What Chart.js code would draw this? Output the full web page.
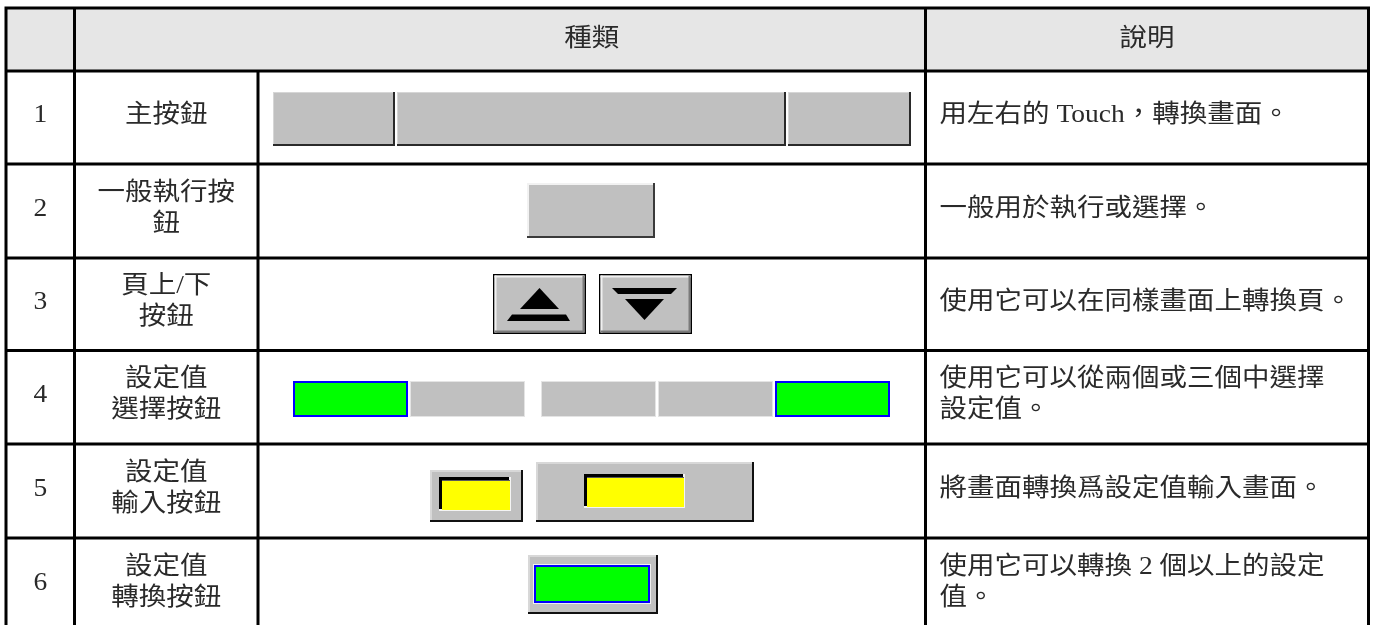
<!DOCTYPE html>
<html>
<head>
<meta charset="utf-8">
<script src="https://cdn.jsdelivr.net/npm/chart.js@4.4.0/dist/chart.umd.min.js"></script>
<style>
  html, body { margin: 0; padding: 0; background: #fff; }
  #wrap { width: 1373px; height: 625px; }
</style>
</head>
<body>
<div id="wrap"><canvas id="myChart" width="1373" height="625"></canvas></div>
<script>
// table content
const headerLabels = ['種類', '說明'];
const rowNumbers = ['1', '2', '3', '4', '5', '6'];
const typeNames = [
  ['主按鈕'],
  ['一般執行按', '鈕'],
  ['頁上/下', '按鈕'],
  ['設定值', '選擇按鈕'],
  ['設定值', '輸入按鈕'],
  ['設定值', '轉換按鈕'],
];
const descriptions = [
  ['用左右的 Touch，轉換畫面。'],
  ['一般用於執行或選擇。'],
  ['使用它可以在同樣畫面上轉換頁。'],
  ['使用它可以從兩個或三個中選擇', '設定值。'],
  ['將畫面轉換爲設定值輸入畫面。'],
  ['使用它可以轉換 2 個以上的設定', '值。'],
];

// layout of the grid (in axis units = page pixels)
const colEdges = [6, 74.5, 258, 925.5, 1368.5];
const rowEdges = [8, 71, 164, 258, 350.5, 444, 538, 632];
const FONT = "25px 'Liberation Serif', 'Noto Sans CJK TC', serif";
const SX = 1.1;      // the reference text is drawn a bit wide
const LINE_H = 31;

const GRAY = '#c0c0c0';

const tablePlugin = {
  id: 'tableDraw',
  afterDraw(chart) {
    const ctx = chart.ctx;
    const xs = chart.scales.x, ys = chart.scales.y;
    const X = (v) => xs.getPixelForValue(v);
    const Y = (v) => ys.getPixelForValue(v);

    function rect(x0, y0, x1, y1, color) {
      ctx.fillStyle = color;
      ctx.fillRect(X(x0), Y(y0), X(x1) - X(x0), Y(y1) - Y(y0));
    }
    // raised gray button: light top/left, dark bottom/right
    function bevel(x0, y0, x1, y1, fill, light, dark, lw, dw) {
      rect(x0, y0, x1, y1, fill);
      if (light) {
        rect(x0, y0, x1, y0 + lw, light);
        rect(x0, y0, x0 + lw, y1, light);
      }
      if (dark) {
        rect(x0, y1 - dw, x1, y1, dark);
        rect(x1 - dw, y0, x1, y1, dark);
      }
    }
    function poly(points, color) {
      ctx.fillStyle = color;
      ctx.beginPath();
      points.forEach((p, i) => {
        if (i === 0) ctx.moveTo(X(p[0]), Y(p[1]));
        else ctx.lineTo(X(p[0]), Y(p[1]));
      });
      ctx.closePath();
      ctx.fill();
    }
    function text(str, x, y, align) {
      ctx.save();
      ctx.font = FONT;
      ctx.fillStyle = '#2a2a2a';
      ctx.textBaseline = 'middle';
      ctx.textAlign = align;
      ctx.translate(X(x), Y(y));
      ctx.scale(SX, 1);
      ctx.fillText(str, 0, 0);
      ctx.restore();
    }
    function lines(arr, x, yc, align) {
      const y0 = yc - (arr.length - 1) * LINE_H / 2;
      arr.forEach((s, i) => text(s, x, y0 + i * LINE_H, align));
    }

    // header background
    rect(colEdges[0], rowEdges[0], colEdges[4], rowEdges[1], '#e6e6e6');

    // row 1: main button bar
    [[273, 395], [397, 786], [788, 911]].forEach(([a, b]) => {
      bevel(a, 92, b, 146, GRAY, '#d6d6d6', '#2a2a2a', 1, 2);
    });

    // row 2: general button
    bevel(527, 183, 655, 238, GRAY, '#f2f2f2', '#3a3a3a', 2, 2);

    // row 3: page up / down
    [[493, 586], [599, 692]].forEach(([a, b]) => {
      rect(a, 274, b, 334, '#000');
      bevel(a + 1.5, 275.5, b - 1.5, 332.5, GRAY, '#f0f0f0', '#7a7a7a', 2, 2);
    });
    poly([[539.5, 288], [559, 309], [520, 309]], '#000');
    poly([[512, 314.5], [566, 314.5], [570, 321], [507, 321]], '#000');
    poly([[612, 288], [677, 288], [671, 294], [618, 294]], '#000');
    poly([[625, 299], [664, 299], [644.5, 320]], '#000');

    // row 4: set-value selection buttons
    function greenBox(x0, y0, x1, y1) {
      rect(x0, y0, x1, y1, '#0000ff');
      rect(x0 + 2, y0 + 2, x1 - 2, y1 - 2, '#00ff00');
    }
    greenBox(293, 381, 408, 417);
    [[410, 525], [541, 656], [658, 773]].forEach(([a, b]) => {
      rect(a, 381, b, 417, '#e4e4e4');
      rect(a + 1, 382, b - 1, 416, GRAY);
    });
    greenBox(775, 381, 890, 417);

    // row 5: set-value input buttons
    function yellowInset(x0, y0, x1, y1) {
      rect(x0 - 1, y0 - 1, x1 + 1, y1 + 1, '#f4f4f4');
      rect(x0 - 1, y0 - 1, x1 - 1, y1 - 1, '#000');
      rect(x0 + 2, y0 + 2, x1, y1, '#ffff00');
      rect(x0 + 2, y0 + 2, x1, y0 + 3, '#5a5a5a');
    }
    bevel(430, 470, 523, 522, GRAY, '#d8d8d8', '#111', 2, 2);
    yellowInset(440, 478, 510, 510);
    bevel(536, 462, 754, 522, GRAY, '#d8d8d8', '#111', 2, 2);
    yellowInset(585, 475, 684, 507);

    // row 6: set-value switch button
    bevel(528, 555, 658, 614, GRAY, '#d8d8d8', '#111', 2, 2);
    rect(533, 564, 651, 604, '#f0f0f0');
    greenBox(534, 565, 650, 603);

    // text
    text(headerLabels[0], (colEdges[2] + colEdges[3]) / 2, 39, 'center');
    text(headerLabels[1], (colEdges[3] + colEdges[4]) / 2, 39, 'center');
    for (let i = 0; i < rowNumbers.length; i++) {
      const yc = (rowEdges[i + 1] + rowEdges[i + 2]) / 2 - 2;
      text(rowNumbers[i], (colEdges[0] + colEdges[1]) / 2, yc, 'center');
      lines(typeNames[i], (colEdges[1] + colEdges[2]) / 2, yc, 'center');
      lines(descriptions[i], colEdges[3] + 14, yc, 'left');
    }

    // grid lines
    ctx.save();
    ctx.strokeStyle = '#000';
    ctx.lineWidth = 3;
    ctx.beginPath();
    rowEdges.forEach((r) => {
      ctx.moveTo(X(colEdges[0]) - 1.5, Y(r));
      ctx.lineTo(X(colEdges[4]) + 1.5, Y(r));
    });
    colEdges.forEach((c, i) => {
      const top = i === 2 ? rowEdges[1] : rowEdges[0];
      ctx.moveTo(X(c), Y(top));
      ctx.lineTo(X(c), Y(rowEdges[rowEdges.length - 1]));
    });
    ctx.stroke();
    ctx.restore();
  }
};

const config = {
  type: 'scatter',
  data: { datasets: [] },
  options: {
    responsive: false,
    animation: false,
    devicePixelRatio: 1,
    events: [],
    layout: { padding: 0 },
    plugins: { legend: { display: false }, tooltip: { enabled: false } },
    scales: {
      x: { type: 'linear', min: 0, max: 1373, display: false },
      y: { type: 'linear', min: 0, max: 625, reverse: true, display: false }
    }
  },
  plugins: [tablePlugin]
};

const myChart = new Chart(document.getElementById('myChart'), config);
</script>
</body>
</html>
